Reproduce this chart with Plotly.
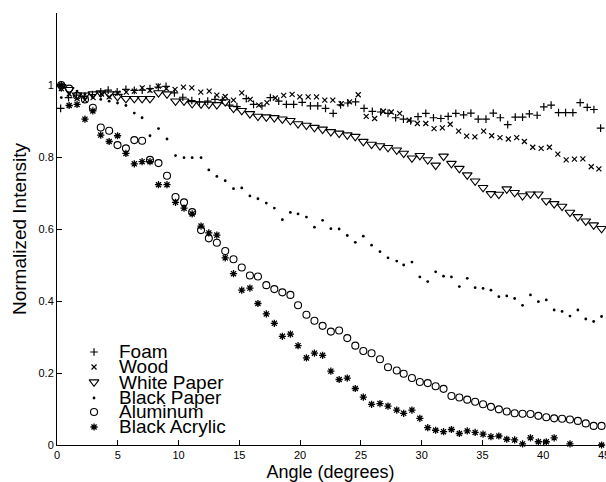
import plotly.graph_objects as go

# ---------------- data ----------------
angles = [0.35, 1.00, 1.65, 2.30, 2.95, 3.60, 4.29, 4.98, 5.67, 6.36,
          7.00, 7.65, 8.35, 9.05, 9.75, 10.45, 11.12, 11.85, 12.49, 13.15,
          13.84, 14.52, 15.20, 15.87, 16.53, 17.22, 17.88, 18.54, 19.20, 19.83,
          20.52, 21.18, 21.85, 22.53, 23.21, 23.88, 24.54, 25.20, 25.88, 26.57,
          27.23, 27.95, 28.52, 29.20, 29.85, 30.50, 31.15, 31.80, 32.45, 33.10,
          33.75, 34.40, 35.05, 35.70, 36.35, 37.00, 37.65, 38.30, 38.95, 39.60,
          40.25, 40.90, 41.55, 42.20, 42.85, 43.50, 44.15, 44.80]

foam_angles = [0.30, 0.95, 1.60, 2.26, 2.92, 3.60, 4.21, 4.95, 5.67, 6.36,
               7.01, 7.65, 8.33, 8.97, 9.66, 10.35, 11.09, 11.72, 12.40, 13.00,
               13.60, 14.20, 14.80, 15.57, 16.17, 16.86, 17.55, 18.24, 18.87, 19.47,
               20.17, 20.85, 21.45, 22.09, 22.72, 23.33, 23.93, 24.56, 25.26, 25.94,
               26.63, 27.23, 27.86, 28.50, 29.10, 29.70, 30.34, 30.97, 31.58, 32.18,
               32.81, 33.45, 34.05, 34.65, 35.29, 35.89, 36.47, 37.08, 37.70, 38.30,
               38.86, 39.50, 40.05, 40.65, 41.26, 41.84, 42.44, 43.04, 43.62, 44.17,
               44.72]
foam = [0.935, 0.965, 0.972, 0.968, 0.973, 0.981, 0.986, 0.981, 0.988, 0.985,
        0.986, 0.990, 0.994, 0.996, 0.978, 0.966, 0.957, 0.953, 0.955, 0.960,
        0.958, 0.944, 0.940, 0.962, 0.946, 0.942, 0.965, 0.955, 0.946, 0.946,
        0.952, 0.942, 0.942, 0.935, 0.921, 0.945, 0.950, 0.953, 0.935, 0.927,
        0.925, 0.921, 0.909, 0.905, 0.900, 0.912, 0.921, 0.909, 0.907, 0.913,
        0.921, 0.917, 0.922, 0.905, 0.905, 0.922, 0.909, 0.890, 0.911, 0.911,
        0.920, 0.916, 0.939, 0.944, 0.923, 0.923, 0.923, 0.951, 0.938, 0.932,
        0.880]

wood_angles = [0.36, 1.00, 1.65, 2.30, 2.97, 3.66, 4.29, 5.00, 5.70, 6.36,
               7.01, 7.65, 8.33, 9.00, 9.71, 10.40, 11.09, 11.83, 12.52, 13.15,
               13.84, 14.52, 15.20, 15.90, 16.60, 17.27, 17.96, 18.65, 19.34, 19.97,
               20.66, 21.35, 22.03, 22.69, 23.38, 24.07, 24.78, 25.44, 26.13, 26.85,
               27.50, 28.19, 28.97, 29.65, 30.34, 31.02, 31.70, 32.35, 33.04, 33.70,
               34.38, 35.10, 35.76, 36.44, 37.13, 37.82, 38.45, 39.14, 39.83, 40.51,
               41.20, 41.89, 42.57, 43.26, 43.95, 44.58]
wood = [0.990, 0.975, 0.962, 0.958, 0.965, 0.975, 0.967, 0.977, 0.980, 0.983,
        0.992, 0.985, 0.997, 0.990, 0.988, 0.994, 0.992, 0.980, 0.983, 0.972,
        0.968, 0.958, 0.978, 0.960, 0.944, 0.951, 0.964, 0.971, 0.974, 0.967,
        0.967, 0.967, 0.958, 0.958, 0.948, 0.953, 0.973, 0.913, 0.907, 0.927,
        0.925, 0.921, 0.902, 0.893, 0.893, 0.879, 0.881, 0.891, 0.872, 0.858,
        0.856, 0.872, 0.859, 0.854, 0.850, 0.854, 0.843, 0.827, 0.824, 0.827,
        0.808, 0.792, 0.794, 0.795, 0.773, 0.767]

white_paper = [0.995, 0.987, 0.972, 0.972, 0.975, 0.978, 0.975, 0.968, 0.962, 0.962,
               0.962, 0.962, 0.978, 0.975, 0.955, 0.955, 0.948, 0.947, 0.946, 0.945,
               0.953, 0.935, 0.929, 0.920, 0.913, 0.911, 0.909, 0.905, 0.901, 0.892,
               0.888, 0.882, 0.877, 0.870, 0.866, 0.861, 0.857, 0.843, 0.835, 0.831,
               0.826, 0.819, 0.810, 0.797, 0.804, 0.792, 0.777, 0.802, 0.782, 0.768,
               0.750, 0.733, 0.715, 0.698, 0.696, 0.711, 0.701, 0.692, 0.697, 0.697,
               0.678, 0.670, 0.663, 0.646, 0.634, 0.622, 0.611, 0.601]

black_paper = [0.965, 0.975, 0.983, 0.975, 0.965, 0.960, 0.955, 0.950, 0.943, 0.922,
               0.909, 0.859, 0.879, 0.850, 0.804, 0.798, 0.798, 0.798, 0.764, 0.746,
               0.734, 0.712, 0.714, 0.692, 0.684, 0.672, 0.658, 0.626, 0.646, 0.642,
               0.633, 0.605, 0.624, 0.601, 0.600, 0.582, 0.563, 0.580, 0.555, 0.537,
               0.520, 0.511, 0.500, 0.508, 0.467, 0.454, 0.481, 0.469, 0.467, 0.440,
               0.463, 0.437, 0.435, 0.430, 0.412, 0.414, 0.407, 0.388, 0.417, 0.398,
               0.403, 0.375, 0.371, 0.358, 0.375, 0.350, 0.343, 0.357]

aluminum = [1.000, 0.990, 0.970, 0.960, 0.937, 0.882, 0.873, 0.833, 0.824, 0.847,
            0.845, 0.792, 0.783, 0.748, 0.689, 0.674, 0.647, 0.597, 0.574, 0.562,
            0.539, 0.516, 0.493, 0.471, 0.468, 0.444, 0.433, 0.424, 0.417, 0.388,
            0.362, 0.345, 0.331, 0.315, 0.318, 0.297, 0.276, 0.261, 0.255, 0.238,
            0.216, 0.207, 0.198, 0.186, 0.175, 0.172, 0.163, 0.156, 0.136, 0.132,
            0.126, 0.120, 0.113, 0.106, 0.099, 0.093, 0.088, 0.087, 0.086, 0.081,
            0.077, 0.074, 0.073, 0.071, 0.067, 0.060, 0.053, 0.053]

black_acrylic = [1.000, 0.943, 0.946, 0.905, 0.928, 0.861, 0.843, 0.859, 0.810, 0.781,
                 0.787, 0.787, 0.723, 0.723, 0.674, 0.658, 0.642, 0.608, 0.589, 0.583,
                 0.520, 0.476, 0.430, 0.436, 0.393, 0.364, 0.338, 0.302, 0.308, 0.276,
                 0.242, 0.255, 0.249, 0.205, 0.182, 0.186, 0.157, 0.133, 0.113, 0.115,
                 0.108, 0.097, 0.088, 0.097, 0.074, 0.048, 0.041, 0.037, 0.043, 0.032,
                 0.039, 0.035, 0.030, 0.023, 0.025, 0.016, 0.014, 0.003, 0.020, 0.009,
                 0.009, 0.020, None, 0.003, None, None, None, 0.000]

series_names = ["Foam", "Wood", "White Paper", "Black Paper", "Aluminum", "Black Acrylic"]
x_ticks = [0, 5, 10, 15, 20, 25, 30, 35, 40, 45]
y_ticks = [0, 0.2, 0.4, 0.6, 0.8, 1]
y_tick_labels = ["0", "0.2", "0.4", "0.6", "0.8", "1"]

# ---------------- styles ----------------
BLACK = "#000000"
FONT = "Liberation Sans, Arial, Helvetica, sans-serif"
markers = {
    "Foam": dict(symbol="cross-thin-open", size=5.5, color=BLACK, line=dict(color=BLACK, width=1.2)),
    "Wood": dict(symbol="x-thin-open", size=5, color=BLACK, line=dict(color=BLACK, width=1.2)),
    "White Paper": dict(symbol="triangle-down-open", size=8.5, color=BLACK, line=dict(color=BLACK, width=1.1)),
    "Black Paper": dict(symbol="circle", size=2.8, color=BLACK, line=dict(width=0)),
    "Aluminum": dict(symbol="circle-open", size=7, color=BLACK, line=dict(color=BLACK, width=1.1)),
    "Black Acrylic": dict(symbol="asterisk-open", size=6, color=BLACK, line=dict(color=BLACK, width=1.3)),
}
series_data = {
    "Foam": (foam_angles, foam),
    "Wood": (wood_angles, wood),
    "White Paper": (angles, white_paper),
    "Black Paper": (angles, black_paper),
    "Aluminum": (angles, aluminum),
    "Black Acrylic": (angles, black_acrylic),
}

fig = go.Figure()
for name in series_names:
    xs, ys = series_data[name]
    fig.add_trace(go.Scatter(x=xs, y=ys, mode="markers", name=name,
                             marker=markers[name], cliponaxis=False,
                             showlegend=False))

# hand-made legend (tight line spacing like the original)
leg_marker_x = 0.0677
leg_text_x = 0.1098
leg_y = [0.2153, 0.1806, 0.1458, 0.1088, 0.0764, 0.0417]
for name, yy in zip(series_names, leg_y):
    fig.add_trace(go.Scatter(x=[leg_marker_x], y=[yy], mode="markers",
                             marker=markers[name], xaxis="x2", yaxis="y2",
                             showlegend=False, hoverinfo="skip", cliponaxis=False))
    fig.add_annotation(x=leg_text_x, y=yy, xref="paper", yref="paper",
                       text=name, showarrow=False, xanchor="left", yanchor="middle",
                       font=dict(family=FONT, size=19, color=BLACK))

axis_common = dict(showgrid=False, zeroline=False, showline=True, linecolor=BLACK,
                   linewidth=1, ticks="inside", ticklen=5, tickcolor=BLACK, tickwidth=1,
                   tickfont=dict(family=FONT, size=11, color=BLACK), mirror=False,
                   ticklabeloverflow="allow", automargin=False)

fig.update_layout(
    width=606, height=482, autosize=False,
    margin=dict(l=57, r=2, t=13, b=37, pad=0),
    paper_bgcolor="white", plot_bgcolor="white",
    font=dict(family=FONT, color=BLACK),
    xaxis=dict(range=[0, 45], tickvals=x_ticks, ticktext=[str(t) for t in x_ticks],
               title=dict(text="Angle (degrees)", font=dict(family=FONT, size=18, color=BLACK),
                          standoff=6),
               **axis_common),
    yaxis=dict(range=[0, 1.2], tickvals=y_ticks, ticktext=y_tick_labels,
               title=dict(text="Normalized Intensity", font=dict(family=FONT, size=19, color=BLACK),
                          standoff=6),
               **axis_common),
    xaxis2=dict(overlaying="x", range=[0, 1], visible=False),
    yaxis2=dict(overlaying="y", range=[0, 1], visible=False),
    showlegend=False,
)

fig.write_html("out.html")
